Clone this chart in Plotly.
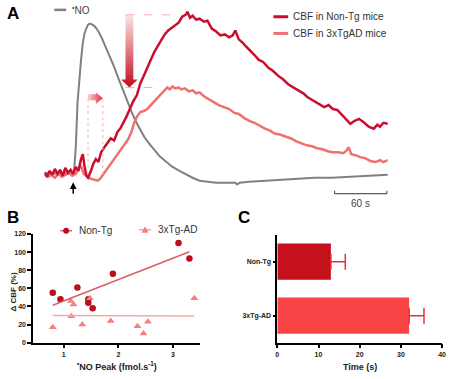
import plotly.graph_objects as go
import numpy as np

W, H = 454, 379
def X(px): return px / W
def Y(py): return 1 - py / H

FONT = "Arial, Liberation Sans, sans-serif"

# ---------------- Panel A data (time in s, signal in a.u.) ----------------
no_t = [0, 10, 20, 30, 34, 36, 38, 40, 42, 44, 46, 48, 50, 52, 55, 58, 62, 66, 70, 75, 80, 85, 90, 95,
        100, 105, 110, 115, 120, 126, 132, 140, 147, 155, 163, 170, 178, 187, 197, 210, 219, 221, 224,
        235, 253, 275, 291, 310, 330, 350, 370, 394]
no_v = [13, 12, 13, 12, 14, 40, 85, 110, 128, 145, 155, 160, 164, 165, 164, 162, 157, 150, 142, 132, 121,
        109, 97, 86, 75, 65, 57, 49, 43, 36, 30, 24, 19, 15, 11, 8, 5, 4, 3, 3, 3, 1, 3,
        4, 5, 6, 7, 8, 8, 9, 10, 11]

ntg_t = [0, 3, 6, 9, 12, 15, 18, 21, 24, 27, 30, 33, 36, 39, 42, 44, 46, 48, 50, 53, 56, 59, 62, 65, 68,
         72, 76, 80, 84, 87, 90, 94, 98, 102, 106, 110, 114, 118, 122, 126, 130, 134, 138, 142, 146, 150,
         154, 158, 162, 164, 167, 170, 174, 178, 183, 187, 192, 197, 202, 207, 212, 216, 219, 223, 227,
         231, 236, 241, 246, 251, 257, 262, 268, 274, 280, 286, 291, 297, 302, 306, 311, 316, 321, 326,
         331, 336, 341, 346, 351, 356, 361, 367, 372, 378, 382, 385, 389, 394]
ntg_v = [13, 9, 15, 11, 17, 12, 16, 10, 18, 13, 16, 12, 19, 15, 27, 32, 20, 10, 8, 14, 22, 27, 24, 34, 38,
         43, 48, 46, 55, 58, 63, 70, 78, 86, 92, 104, 112, 120, 128, 136, 142, 148, 154, 158, 161, 163,
         166, 172, 174, 177, 171, 173, 169, 170, 167, 168, 160, 157, 153, 154, 151, 153, 158, 149, 146,
         142, 138, 133, 128, 126, 120, 117, 112, 108, 103, 100, 97, 94, 90, 88, 85, 83, 80, 82,
         78, 77, 72, 67, 63, 66, 68, 64, 60, 58, 62, 60, 64, 63]

tg_t = [0, 4, 8, 12, 16, 20, 24, 28, 32, 36, 40, 42, 45, 49, 53, 57, 61, 64, 68, 72, 76, 80, 84, 88, 92,
        96, 100, 103, 106, 110, 114, 118, 122, 126, 130, 134, 138, 141, 144, 147, 150, 154, 157, 161,
        166, 170, 174, 178, 183, 189, 194, 200, 206, 212, 218, 223, 229, 235, 241, 247, 253, 259, 264,
        270, 276, 283, 289, 295, 301, 307, 313, 319, 325, 331, 337, 343, 347, 349, 352, 357, 362, 368,
        374, 380, 385, 389, 394]
tg_v = [12, 9, 11, 8, 12, 9, 11, 13, 10, 12, 18, 20, 12, 10, 7, 6, 5, 7, 12, 17, 22, 27, 32, 37, 42,
        47, 55, 64, 70, 75, 76, 78, 82, 86, 89, 93, 98, 100, 98, 101, 99, 100, 98, 99,
        96, 97, 94, 95, 91, 88, 85, 82, 80, 78, 74, 73, 69, 66, 64, 61, 58, 56, 53,
        52, 50, 48, 45, 43, 41, 40, 38, 37, 35, 34, 34, 33, 36, 39, 32, 31, 29, 28,
        25, 24, 26, 24, 26]

stim_t = 33          # stimulus time (s)
scale_s = 60         # scale bar length (s)

# ---------------- Panel B data ----------------
b_ntg_x = [0.80, 0.94, 1.25, 1.45, 1.45, 1.53, 1.90, 3.10, 3.30]
b_ntg_y = [55, 48, 61, 48, 44, 38, 76, 110, 93]
b_tg_x = [0.80, 1.13, 1.18, 1.14, 1.34, 1.48, 1.86, 2.35, 2.46, 2.54, 3.39]
b_tg_y = [17, 46, 42, 29, 20, 49, 24, 18, 10, 23, 49]

# ---------------- Panel C data ----------------
c_groups = ["Non-Tg", "3xTg-AD"]
c_mean = [13, 32]
c_sem = [3.5, 3.6]

C_DARK = "#c8102e"
C_LIGHT = "#f07070"
C_GRAY = "#808080"

fig = go.Figure()

# Panel A traces
fig.add_trace(go.Scatter(x=no_t, y=no_v, mode="lines", line=dict(color=C_GRAY, width=2),
                         xaxis="x", yaxis="y", showlegend=False, hoverinfo="skip"))
fig.add_trace(go.Scatter(x=tg_t, y=tg_v, mode="lines", line=dict(color=C_LIGHT, width=2.5),
                         xaxis="x", yaxis="y", showlegend=False))
fig.add_trace(go.Scatter(x=ntg_t, y=ntg_v, mode="lines", line=dict(color=C_DARK, width=2.5),
                         xaxis="x", yaxis="y", showlegend=False))

# gradient arrows (decoration derived from peaks)
peak_n = max(ntg_v) - 3
peak_t = max(tg_v) - 1
tc, sw, hw = 97.5, 4.5, 9.5
neck = peak_t + 8
fig.add_trace(go.Scatter(
    x=[tc - sw, tc + sw, tc + sw, tc + hw, tc, tc - hw, tc - sw, tc - sw],
    y=[peak_n, peak_n, neck, neck, peak_t, neck, neck, peak_n],
    mode="lines", line=dict(width=0), fill="toself",
    fillgradient=dict(type="vertical", colorscale=[[0, "#c00d1e"], [1, "#fce6e6"]]),
    xaxis="x", yaxis="y", showlegend=False, hoverinfo="skip"))
fig.add_trace(go.Scatter(
    x=[50, 59, 59, 67, 59, 59, 50, 50],
    y=[87, 87, 83, 89, 95, 93, 93, 87],
    mode="lines", line=dict(width=0), fill="toself",
    fillgradient=dict(type="horizontal", colorscale=[[0, "#fad0d0"], [1, "#e0303c"]]),
    xaxis="x", yaxis="y", showlegend=False, hoverinfo="skip"))

# Panel B
fig.add_trace(go.Scatter(x=b_ntg_x, y=b_ntg_y, mode="markers",
                         marker=dict(color="#b8101c", size=6.5, symbol="circle"),
                         xaxis="x2", yaxis="y2", showlegend=False, cliponaxis=False))
fig.add_trace(go.Scatter(x=b_tg_x, y=b_tg_y, mode="markers",
                         marker=dict(color="#f28080", size=7, symbol="triangle-up"),
                         xaxis="x2", yaxis="y2", showlegend=False, cliponaxis=False))
for xs, ys, col in [(b_ntg_x, b_ntg_y, "#d8606a"), (b_tg_x, b_tg_y, "#f5a8a8")]:
    k, b = np.polyfit(xs, ys, 1)
    lx = [min(xs), max(xs)]
    fig.add_trace(go.Scatter(x=lx, y=[k * v + b for v in lx], mode="lines",
                             line=dict(color=col, width=1.5),
                             xaxis="x2", yaxis="y2", showlegend=False, hoverinfo="skip"))

# Panel C
fig.add_trace(go.Bar(y=c_groups, x=c_mean, orientation="h",
                     marker=dict(color=["#c4111b", "#f74444"], line=dict(width=0)),
                     error_x=dict(type="data", array=c_sem, arrayminus=[0, 0], symmetric=False,
                                  color="#e8303a", thickness=1.5, width=8),
                     xaxis="x3", yaxis="y3", showlegend=False))

axis_common = dict(showline=True, linecolor="black", linewidth=1.5, ticks="outside",
                   ticklen=4, tickwidth=1.5, tickcolor="black", showgrid=False, zeroline=False,
                   tickfont=dict(family=FONT, size=7, color="#222", weight="bold"))

fig.update_layout(
    width=W, height=H, margin=dict(l=0, r=0, t=0, b=0),
    paper_bgcolor="white", plot_bgcolor="rgba(0,0,0,0)",
    font=dict(family=FONT),
    bargap=0.33,
    xaxis=dict(domain=[X(43), X(391)], range=[0, 394], visible=False, anchor="y"),
    yaxis=dict(domain=[Y(185), Y(5)], range=[0, 180], visible=False, anchor="x"),
    xaxis2=dict(domain=[X(31.5), X(201)], range=[0.44, 3.5], tickvals=[1, 2, 3],
                anchor="y2", **axis_common),
    yaxis2=dict(domain=[Y(345), Y(234.3)], range=[0, 120], dtick=20, anchor="x2", **axis_common),
    xaxis3=dict(domain=[X(279), X(446)], range=[0, 40], dtick=10, anchor="y3", **axis_common),
    yaxis3=dict(domain=[Y(345), Y(235)], categoryorder="array",
                categoryarray=["3xTg-AD", "Non-Tg"], anchor="x3",
                **{k: v for k, v in axis_common.items() if k not in ("ticklen",)}, ticklen=3),
)

shapes = []
# legend lines panel A
shapes.append(dict(type="line", xref="paper", yref="paper", x0=X(53), x1=X(65), y0=Y(6), y1=Y(6),
                   line=dict(color=C_GRAY, width=2.5)))
shapes.append(dict(type="line", xref="paper", yref="paper", x0=X(275), x1=X(290), y0=Y(13), y1=Y(13),
                   line=dict(color=C_DARK, width=3)))
shapes.append(dict(type="line", xref="paper", yref="paper", x0=X(275), x1=X(290), y0=Y(30), y1=Y(30),
                   line=dict(color=C_LIGHT, width=3)))
# dashed guides
dash_col = "#f5b0b0"
shapes.append(dict(type="line", xref="x", yref="y", x0=93, x1=152, y0=peak_n, y1=peak_n,
                   line=dict(color=dash_col, width=1, dash="dash")))
shapes.append(dict(type="line", xref="x", yref="y", x0=93, x1=133, y0=peak_t, y1=peak_t,
                   line=dict(color=dash_col, width=1, dash="dash")))
for tx in (50, 67):
    shapes.append(dict(type="line", xref="x", yref="y", x0=tx, x1=tx, y0=88, y1=12,
                       line=dict(color=dash_col, width=1, dash="dot")))
# scale bar
t_end = max(ntg_t) - 1
shapes.append(dict(type="line", xref="x", yref="paper", x0=t_end - scale_s, x1=t_end,
                   y0=Y(193.3), y1=Y(193.3), line=dict(color="#333", width=1)))
for tx in (t_end - scale_s, t_end):
    shapes.append(dict(type="line", xref="x", yref="paper", x0=tx, x1=tx,
                       y0=Y(193.3), y1=Y(190.3), line=dict(color="#333", width=1)))
# panel B legend symbols
shapes.append(dict(type="line", xref="paper", yref="paper", x0=X(59), x1=X(71), y0=Y(231), y1=Y(231),
                   line=dict(color="#d8606a", width=1.5)))
shapes.append(dict(type="circle", xref="paper", yref="paper", x0=X(62), x1=X(68), y0=Y(234), y1=Y(228),
                   fillcolor="#b8101c", line=dict(width=0)))
shapes.append(dict(type="line", xref="paper", yref="paper", x0=X(139), x1=X(151), y0=Y(230), y1=Y(230),
                   line=dict(color="#f5a8a8", width=1.5)))
shapes.append(dict(type="path", xref="paper", yref="paper",
                   path=f"M {X(141.5)} {Y(233)} L {X(148.5)} {Y(233)} L {X(145)} {Y(226.5)} Z",
                   fillcolor="#f28080", line=dict(width=0)))
fig.update_layout(shapes=shapes)

ann = []
def txt(s, px, py, size, color="#333", bold=False, xanchor="left", angle=0):
    ann.append(dict(text=s, x=X(px), y=Y(py), xref="paper", yref="paper", showarrow=False,
                    xanchor=xanchor, yanchor="middle", textangle=angle,
                    font=dict(family=FONT, size=size, color=color, weight="bold" if bold else "normal")))

txt("A", 3, 10, 17, "black", True)
txt("B", 3, 218, 17, "black", True)
txt("C", 237, 218, 17, "black", True)
txt("<sup>•</sup>NO", 69, 6, 10, "#444")
txt("CBF in Non-Tg mice", 293, 13, 10, "#333")
txt("CBF in 3xTgAD mice", 293, 30, 10, "#333")
txt("60 s", 363, 203, 10, "#444", xanchor="center")
txt("Non-Tg", 76, 231, 10, "#333")
txt("3xTg-AD", 156, 230, 10, "#333")
txt("Δ CBF (%)", 12, 293, 8, "#222", True, xanchor="center", angle=-90)
txt("<sup>•</sup>NO Peak (fmol.s<sup>-1</sup>)", 117, 369, 9, "#222", True, xanchor="center")
txt("Time (s)", 363, 370, 9, "#222", True, xanchor="center")
ann.append(dict(text="", x=stim_t, y=Y(181.5), xref="x", yref="paper", ax=0, ay=13,
                showarrow=True, arrowhead=2, arrowsize=0.9, arrowwidth=1.5, arrowcolor="black"))
fig.update_layout(annotations=ann)

fig.write_html("out.html", config={"displayModeBar": False},
               post_script="document.body.style.margin='0';document.body.style.padding='0';"
                           "document.body.style.overflow='hidden';")
